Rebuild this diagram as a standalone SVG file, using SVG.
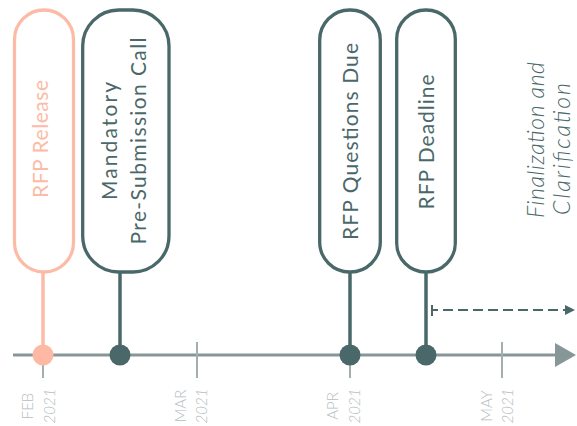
<svg xmlns="http://www.w3.org/2000/svg" width="577" height="426" viewBox="0 0 577 426">
<style>
.pill{fill:#fff;stroke-width:3.3}
.pk{stroke:#fcbba6}
.tl{stroke:#4a6869}
.lbl{font-family:Lato,"Open Sans",sans-serif;font-size:21px;text-anchor:middle}
.lt{fill:#4a6869}
.lp{fill:#fcbba6}
.date{font-family:Lato,"Open Sans",sans-serif;font-weight:300;font-size:15px;fill:#b4bec0;text-anchor:middle}
.fin{font-family:Lato,"Open Sans",sans-serif;font-weight:300;font-style:italic;font-size:23px;fill:#4a6869;text-anchor:middle}
.stem{stroke-width:3.5;fill:none}
.tick{stroke:#a3aeb0;stroke-width:2}
</style>
<defs>
<marker id="dashArrow" viewBox="0 0 10 10" refX="10" refY="5" markerWidth="10" markerHeight="10" markerUnits="userSpaceOnUse" orient="auto">
<path d="M0,0 L10,5 L0,10 Z" fill="#4a6869"/>
</marker>
</defs>
<g id="connectors">
<line x1="13" y1="355" x2="558" y2="355" stroke="#879697" stroke-width="3"/>
<path d="M555,343 L576,355 L555,367 Z" fill="#879697"/>
<line class="tick" x1="43" y1="355" x2="43" y2="378"/>
<line class="tick" x1="197" y1="342" x2="197" y2="378"/>
<line class="tick" x1="350" y1="355" x2="350" y2="378"/>
<line class="tick" x1="502" y1="342" x2="502" y2="378"/>
<line class="stem pk" x1="43" y1="273" x2="43" y2="355"/>
<line class="stem tl" x1="120" y1="273" x2="120" y2="355"/>
<line class="stem tl" x1="350" y1="273" x2="350" y2="355"/>
<line class="stem tl" x1="426" y1="273" x2="426" y2="355"/>
<line x1="432" y1="305" x2="432" y2="316" stroke="#4a6869" stroke-width="2"/>
<line x1="432" y1="310" x2="575" y2="310" stroke="#4a6869" stroke-width="2" stroke-dasharray="10 5" stroke-dashoffset="4" marker-end="url(#dashArrow)"/>
<circle cx="43" cy="355" r="10.5" fill="#fdb9a3"/>
<circle cx="120" cy="355" r="10.5" fill="#4a6869"/>
<circle cx="350" cy="355" r="10.5" fill="#4a6869"/>
<circle cx="426" cy="355" r="10.5" fill="#4a6869"/>
</g>
<g id="rfp-release">
<rect class="pill pk" x="14.5" y="10" width="59" height="262" rx="29.5"/>
<text class="lbl lp" transform="translate(48,139) rotate(-90)" textLength="118">RFP Release</text>
</g>
<g id="pre-submission-call">
<rect class="pill tl" x="82.7" y="10" width="86.3" height="262" rx="36"/>
<text class="lbl lt" transform="translate(117,141) rotate(-90)" textLength="118">Mandatory</text>
<text class="lbl lt" transform="translate(146,141) rotate(-90)" textLength="207">Pre-Submission Call</text>
</g>
<g id="rfp-questions-due">
<rect class="pill tl" x="319.7" y="10" width="60.6" height="262" rx="30"/>
<text class="lbl lt" transform="translate(358,141.5) rotate(-90)" textLength="197">RFP Questions Due</text>
</g>
<g id="rfp-deadline">
<rect class="pill tl" x="396.7" y="10" width="58.6" height="262" rx="29"/>
<text class="lbl lt" transform="translate(434,142) rotate(-90)" textLength="135">RFP Deadline</text>
</g>
<g id="finalization">
<text class="fin" transform="translate(544,140) rotate(-90)" textLength="156">Finalization and</text>
<text class="fin" transform="translate(570,149) rotate(-90)" textLength="132">Clarification</text>
</g>
<g id="dates">
<text class="date" transform="translate(33,406) rotate(-90)">FEB</text>
<text class="date" font-style="italic" transform="translate(55,406) rotate(-90)">2021</text>
<text class="date" transform="translate(186,406) rotate(-90)">MAR</text>
<text class="date" font-style="italic" transform="translate(207,406) rotate(-90)">2021</text>
<text class="date" transform="translate(338,406) rotate(-90)">APR</text>
<text class="date" font-style="italic" transform="translate(360,406) rotate(-90)">2021</text>
<text class="date" transform="translate(492,406) rotate(-90)">MAY</text>
<text class="date" font-style="italic" transform="translate(513,406) rotate(-90)">2021</text>
</g>
</svg>
